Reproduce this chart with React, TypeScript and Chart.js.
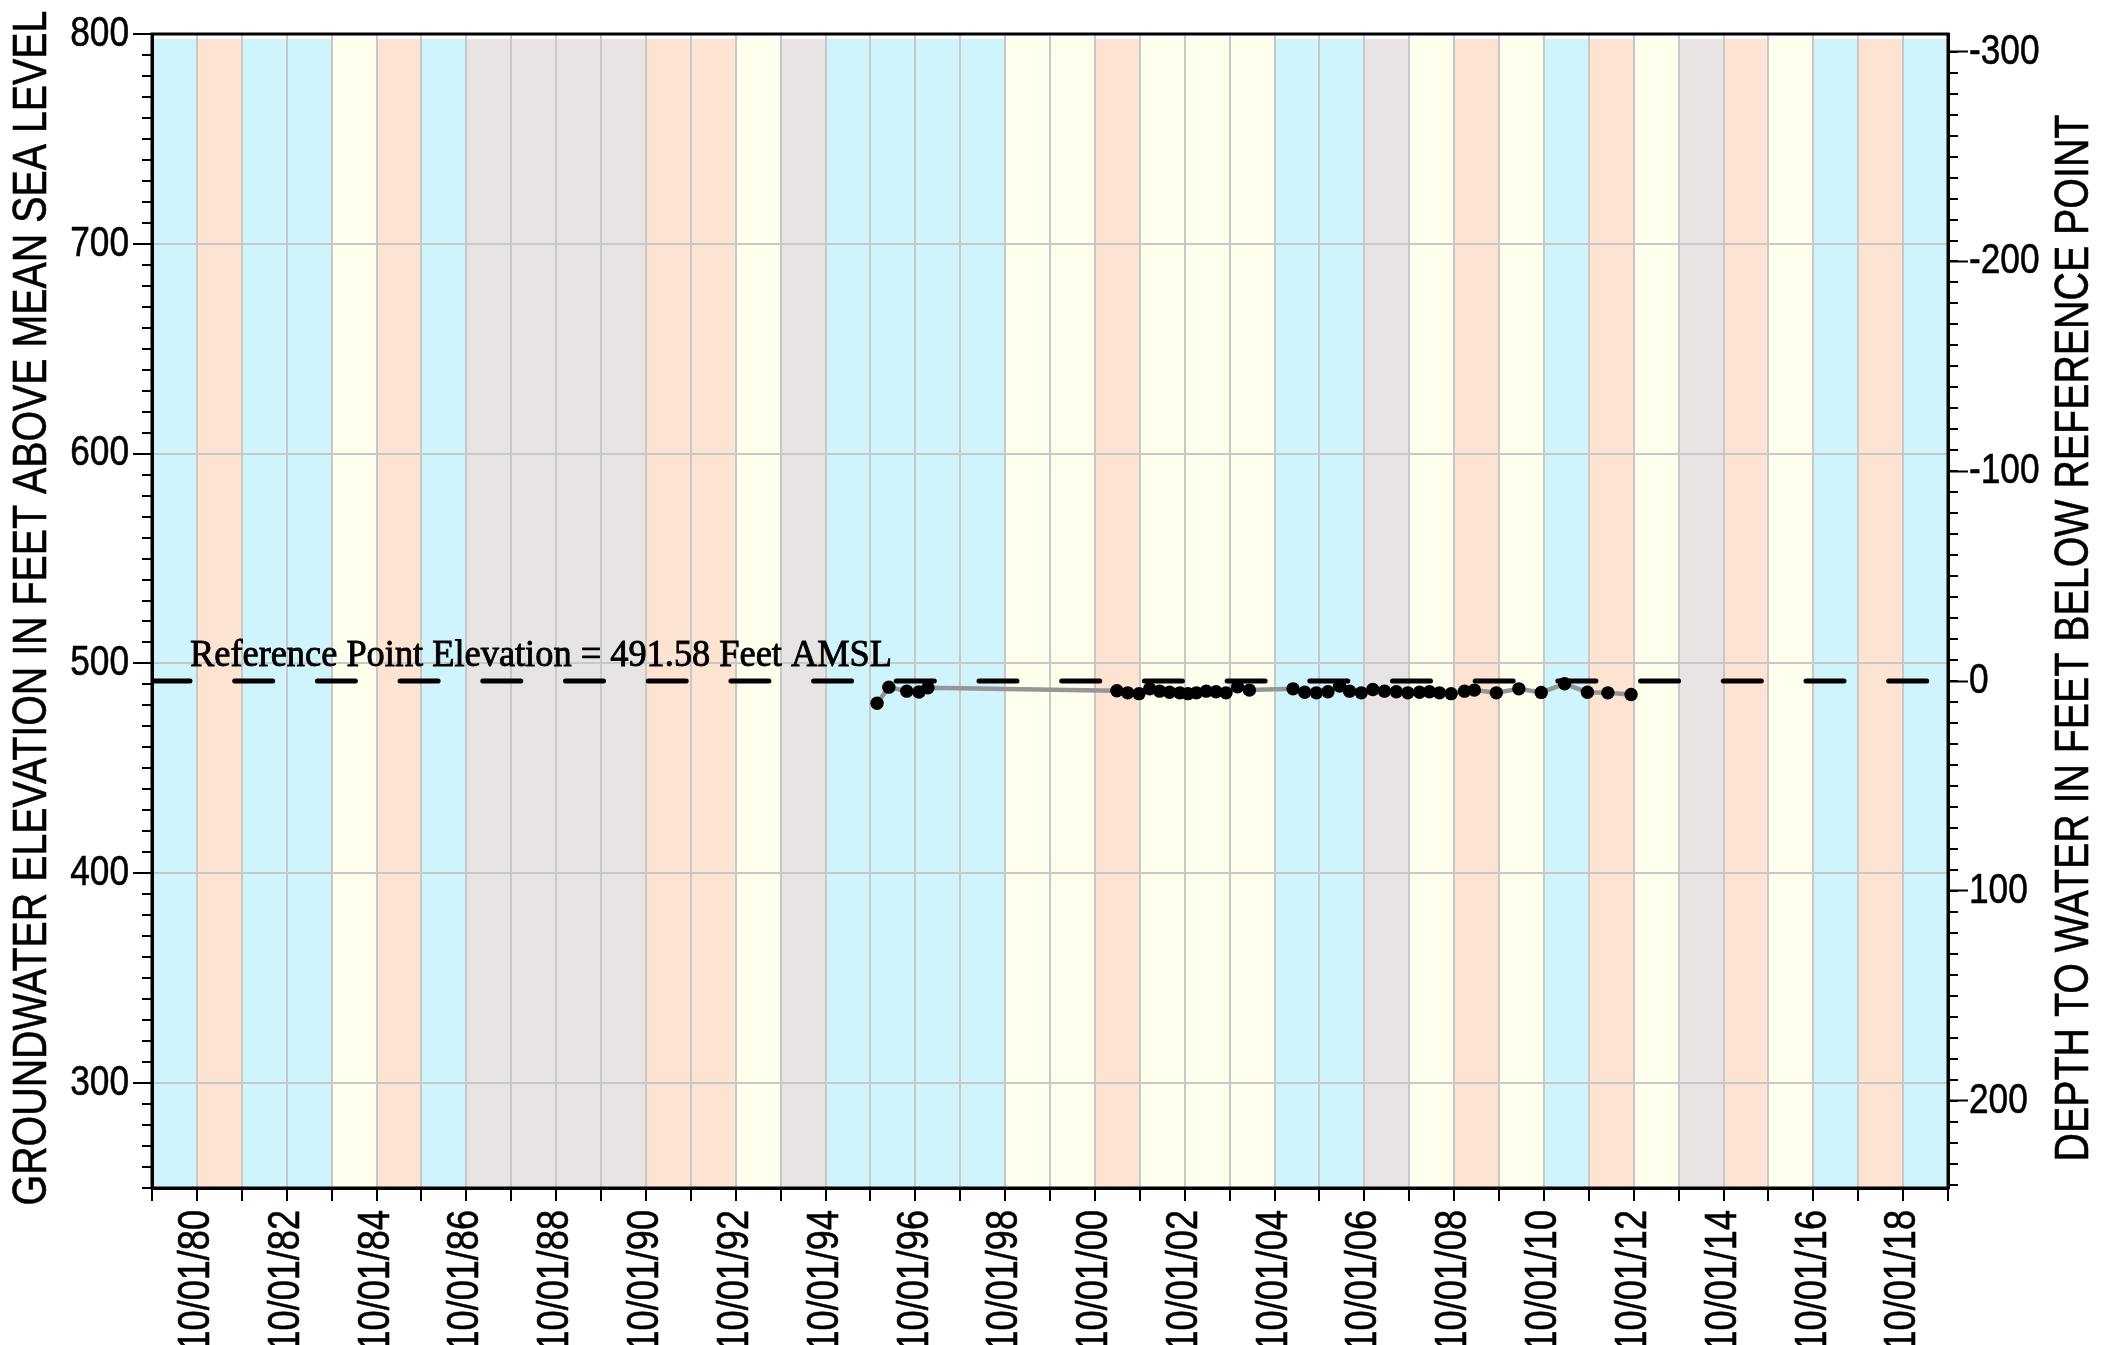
import React, { useEffect, useRef } from 'react';
import { Chart, registerables } from 'chart.js';

Chart.register(...registerables);

// ---------------- data ----------------
const REF_ELEV = 491.58;
const ELEV_MIN = 250;
const ELEV_MAX = 800;
const START_YEAR = 1979; // axis starts 10/01/1979
const END_YEAR = 2019; // axis ends 10/01/2019

const elevTicks = [300, 400, 500, 600, 700, 800];
const depthTicks = [-300, -200, -100, 0, 100, 200];

// water-year classification, WY1980 .. WY2019 (Oct 1 of previous year to Oct 1)
const wyTypes = [
  'B', 'P', 'B', 'B', 'Y', 'P', 'B', 'G', 'G', 'G',
  'G', 'P', 'P', 'Y', 'G', 'B', 'B', 'B', 'B', 'Y',
  'Y', 'P', 'Y', 'Y', 'Y', 'B', 'B', 'G', 'Y', 'P',
  'Y', 'B', 'P', 'Y', 'G', 'P', 'Y', 'B', 'P', 'B',
];

const measureDates = [
  '1995-11-24', '1996-02-28', '1996-07-23', '1996-10-30', '1997-01-11',
  '2001-03-28', '2001-06-24', '2001-09-24', '2001-12-20', '2002-03-11',
  '2002-05-30', '2002-08-22', '2002-10-27', '2003-01-04', '2003-03-25',
  '2003-06-13', '2003-09-02', '2003-12-05', '2004-03-10', '2005-02-28',
  '2005-06-03', '2005-09-06', '2005-12-09', '2006-03-14', '2006-06-03',
  '2006-09-06', '2006-12-09', '2007-03-14', '2007-06-18', '2007-09-20',
  '2007-12-24', '2008-03-14', '2008-06-03', '2008-09-06', '2008-12-24',
  '2009-03-14', '2009-09-09', '2010-03-11', '2010-09-09', '2011-03-18',
  '2011-09-20', '2012-03-04', '2012-09-09',
];

const measureElev = [
  481.0, 488.7, 486.8, 486.4, 488.4,
  487.0, 486.0, 485.6, 487.9, 486.8,
  486.3, 486.0, 485.6, 486.0, 486.8,
  486.5, 486.0, 488.9, 487.3, 487.9,
  486.3, 486.0, 486.5, 489.2, 486.8,
  486.0, 487.6, 486.8, 486.5, 486.0,
  486.3, 486.5, 486.0, 485.6, 486.8,
  487.3, 486.0, 487.9, 486.2, 490.3,
  486.3, 486.0, 485.2,
];

const LEFT_TITLE = 'GROUNDWATER ELEVATION IN FEET ABOVE MEAN SEA LEVEL';
const RIGHT_TITLE = 'DEPTH TO WATER IN FEET BELOW REFERENCE POINT';
const REF_TEXT = 'Reference Point Elevation = 491.58 Feet AMSL';

// ---------------- styling ----------------
const BAND_COLORS: Record<string, string> = {
  B: 'rgb(208, 244, 252)',
  P: 'rgb(252, 227, 210)',
  Y: 'rgb(255, 255, 238)',
  G: 'rgb(233, 228, 228)',
};
const SANS = "'Liberation Sans', Arial, sans-serif";
const SERIF = "'Liberation Serif', 'Times New Roman', serif";
const GRID = 'rgb(200, 200, 200)';
const NARROW_X = 0.82; // horizontal compression to mimic a narrow face
const TICK_SIZE = 43;
const XTICK_SIZE = 44;
const TITLE_SIZE = 48;

const dayNum = (s: string) => {
  const [y, m, d] = s.split('-').map(Number);
  return Date.UTC(y, m - 1, d) / 86400000;
};
const oct1 = (y: number) => Date.UTC(y, 9, 1) / 86400000;

function narrowText(
  ctx: CanvasRenderingContext2D,
  text: string,
  x: number,
  y: number,
  size: number,
  align: CanvasTextAlign,
  rotate: boolean,
) {
  ctx.save();
  ctx.translate(x, y);
  if (rotate) ctx.rotate(-Math.PI / 2);
  ctx.scale(NARROW_X, 1);
  ctx.font = `${size}px ${SANS}`;
  ctx.fillStyle = '#000';
  ctx.strokeStyle = '#000';
  ctx.lineWidth = 0.6;
  ctx.textAlign = align;
  ctx.textBaseline = 'middle';
  ctx.fillText(text, 0, 0);
  ctx.strokeText(text, 0, 0);
  ctx.restore();
}

export default function App() {
  const ref = useRef<HTMLCanvasElement | null>(null);

  useEffect(() => {
    const canvas = ref.current;
    if (!canvas) return;

    const xMin = oct1(START_YEAR);
    const xMax = oct1(END_YEAR);
    const yearTicks: number[] = [];
    for (let y = START_YEAR; y <= END_YEAR; y++) yearTicks.push(oct1(y));

    const decor = {
      id: 'decor',
      beforeDraw(chart: any) {
        const { ctx, chartArea } = chart;
        const xs = chart.scales.x;
        const ys = chart.scales.y;
        const top = ys.getPixelForValue(ELEV_MAX - 2.4);
        ctx.save();
        wyTypes.forEach((t, i) => {
          const x0 = xs.getPixelForValue(oct1(START_YEAR + i));
          const x1 = xs.getPixelForValue(oct1(START_YEAR + i + 1));
          ctx.fillStyle = BAND_COLORS[t];
          ctx.fillRect(x0, top, x1 - x0, chartArea.bottom - top);
        });
        ctx.restore();
      },
      afterDraw(chart: any) {
        const { ctx, chartArea } = chart;
        const xs = chart.scales.x;
        const ys = chart.scales.y;
        const y2 = chart.scales.y2;
        ctx.save();
        // minor ticks
        ctx.strokeStyle = '#000';
        ctx.lineWidth = 2;
        ctx.beginPath();
        for (let v = ELEV_MIN; v <= ELEV_MAX; v += 10) {
          const y = Math.round(ys.getPixelForValue(v));
          ctx.moveTo(chartArea.left - 10, y);
          ctx.lineTo(chartArea.left, y);
        }
        for (let d = -300; d <= 240; d += 10) {
          const y = Math.round(y2.getPixelForValue(d));
          ctx.moveTo(chartArea.right, y);
          ctx.lineTo(chartArea.right + 10, y);
        }
        ctx.stroke();
        // frame
        ctx.lineWidth = 3;
        ctx.strokeRect(chartArea.left, chartArea.top, chartArea.right - chartArea.left, chartArea.bottom - chartArea.top);
        ctx.restore();

        // tick labels
        elevTicks.forEach((v) => {
          narrowText(ctx, String(v), chartArea.left - 23, ys.getPixelForValue(v), TICK_SIZE, 'right', false);
        });
        depthTicks.forEach((v) => {
          narrowText(ctx, String(v), chartArea.right + 21, y2.getPixelForValue(v), TICK_SIZE, 'left', false);
        });
        for (let yr = START_YEAR; yr <= END_YEAR; yr++) {
          if (yr % 2 !== 0) continue;
          const label = `10/01/${String(yr % 100).padStart(2, '0')}`;
          narrowText(ctx, label, xs.getPixelForValue(oct1(yr)), chartArea.bottom + 22, XTICK_SIZE, 'right', true);
        }

        // axis titles (both read bottom to top)
        const midY = (chartArea.top + chartArea.bottom) / 2;
        narrowText(ctx, LEFT_TITLE, 33, midY - 3, TITLE_SIZE, 'center', true);
        narrowText(ctx, RIGHT_TITLE, chartArea.right + 127, midY + 27, TITLE_SIZE, 'center', true);

        // reference point annotation
        ctx.save();
        ctx.font = `38px ${SERIF}`;
        ctx.fillStyle = '#000';
        ctx.strokeStyle = '#000';
        ctx.lineWidth = 0.9;
        ctx.textBaseline = 'alphabetic';
        ctx.textAlign = 'left';
        const w = ctx.measureText(REF_TEXT).width;
        const sx = 702 / w;
        const ty = ys.getPixelForValue(REF_ELEV) - 15;
        ctx.translate(chartArea.left + 38, ty);
        ctx.scale(sx, 1);
        ctx.fillText(REF_TEXT, 0, 0);
        ctx.strokeText(REF_TEXT, 0, 0);
        ctx.restore();
      },
    };

    const chart = new Chart(canvas, {
      type: 'line',
      data: {
        datasets: [
          {
            label: 'Reference Point',
            data: [
              { x: xMin, y: REF_ELEV },
              { x: xMax, y: REF_ELEV },
            ],
            borderColor: '#000',
            borderWidth: 5,
            borderDash: [38, 44.7],
            borderCapStyle: 'round',
            pointRadius: 0,
            yAxisID: 'y',
            order: 0,
          },
          {
            label: 'Groundwater Elevation',
            data: measureDates.map((d, i) => ({ x: dayNum(d), y: measureElev[i] })),
            borderColor: 'rgb(150, 150, 150)',
            borderWidth: 4.5,
            pointRadius: 6.7,
            pointBackgroundColor: '#000',
            pointBorderColor: '#000',
            pointBorderWidth: 0,
            yAxisID: 'y',
            order: 1,
          },
        ],
      },
      options: {
        animation: false,
        responsive: false,
        devicePixelRatio: 1,
        layout: { padding: { top: 34, left: 0, right: 0, bottom: 0 } },
        plugins: {
          legend: { display: false },
          tooltip: { enabled: false },
        },
        scales: {
          x: {
            type: 'linear',
            position: 'bottom',
            min: xMin,
            max: xMax,
            afterBuildTicks: (s: any) => {
              s.ticks = yearTicks.map((v) => ({ value: v }));
            },
            afterFit: (s: any) => {
              s.height = 157;
            },
            ticks: { display: false, autoSkip: false },
            grid: {
              color: GRID,
              lineWidth: 2,
              drawTicks: true,
              tickLength: 13,
              tickColor: '#000',
              tickWidth: 2,
            },
            border: { display: true, color: '#000', width: 3 },
          },
          y: {
            type: 'linear',
            position: 'left',
            min: ELEV_MIN,
            max: ELEV_MAX,
            afterBuildTicks: (s: any) => {
              s.ticks = elevTicks.map((v) => ({ value: v }));
            },
            afterFit: (s: any) => {
              s.width = 152;
            },
            ticks: { display: false },
            grid: {
              color: GRID,
              lineWidth: 2,
              drawTicks: true,
              tickLength: 19,
              tickColor: '#000',
              tickWidth: 2,
            },
            border: { display: true, color: '#000', width: 3 },
          },
          y2: {
            type: 'linear',
            position: 'right',
            reverse: true,
            min: REF_ELEV - ELEV_MAX,
            max: REF_ELEV - ELEV_MIN,
            afterBuildTicks: (s: any) => {
              s.ticks = depthTicks.map((v) => ({ value: v }));
            },
            afterFit: (s: any) => {
              s.width = 172;
            },
            ticks: { display: false },
            grid: {
              drawOnChartArea: false,
              drawTicks: true,
              tickLength: 20,
              tickColor: '#000',
              tickWidth: 2,
            },
            border: { display: true, color: '#000', width: 3 },
          },
        },
      },
      plugins: [decor],
    } as any);

    return () => chart.destroy();
  }, []);

  return (
    <div
      style={{
        position: 'fixed',
        left: 0,
        top: 0,
        width: 2120,
        height: 1345,
        overflow: 'hidden',
        background: '#fff',
      }}
    >
      <canvas ref={ref} width={2120} height={1345} style={{ display: 'block' }} />
    </div>
  );
}
